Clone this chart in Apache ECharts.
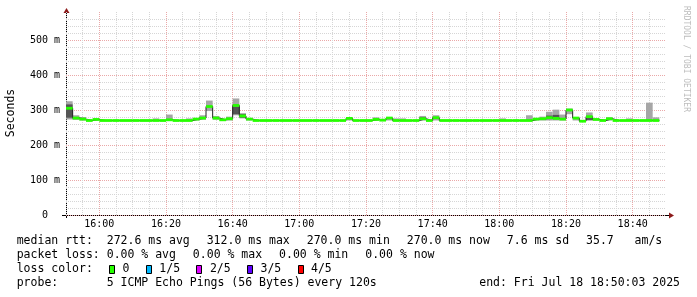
<!DOCTYPE html>
<html><head><meta charset="utf-8">
<script src="https://cdn.jsdelivr.net/npm/echarts@6/dist/echarts.min.js"></script>
<style>html,body{margin:0;padding:0;background:#fff}#c{width:697px;height:297px}</style>
</head><body><div id="c"></div>
<script>
// ---- data (times in minutes since midnight; RTT values in ms) ----
const START_MIN = 950;      // 15:50
const STEP_MIN = 2;         // 120 s probe step
const X_MIN = 950, X_MAX = 1130;   // 15:50 .. 18:50
const Y_MAX = 580;
const xTickLabels = ['16:00','16:20','16:40','17:00','17:20','17:40','18:00','18:20','18:40'];
const yTickLabels = ['0','100 m','200 m','300 m','400 m','500 m'];

const median = [305,277,274,270,273,270,270,270,270,270,270,270,270,270,270,272,270,270,270,274,
                277,310,277,272,275,313,283,274,270,270,270,270,270,270,270,270,270,270,270,270,
                270,270,276,270,270,270,273,271,277,270,270,270,270,275,270,278,270,270,270,270,
                270,270,270,270,270,270,270,270,270,270,274,275,278,276,274,300,277,268,281,273,
                270,275,270,270,270,270,270,270,270];
const smokeMin = [273,272,270,270,270,270,270,270,270,270,270,270,270,270,270,270,270,270,270,270,
                  272,297,272,270,270,285,276,270,270,270,270,270,270,270,270,270,270,270,270,270,
                  270,270,270,270,270,270,270,270,270,270,270,270,270,270,270,270,270,270,270,270,
                  270,270,270,270,270,270,270,270,270,270,270,270,270,270,270,288,270,266,270,270,
                  270,270,270,270,270,270,270,270,270];
const smokeMax = [325,285,280,270,275,270,270,270,270,270,270,270,270,276,270,287,270,270,276,275,
                  285,327,283,274,281,333,291,276,270,270,270,270,270,270,270,270,270,270,270,270,
                  270,270,277,270,270,270,279,271,278,276,276,270,270,283,270,285,270,270,270,270,
                  270,270,270,270,270,276,270,270,270,285,276,281,295,301,287,304,280,270,293,275,
                  270,279,270,270,276,270,270,321,279];
// darker inner part of the smoke (only where visible)
const innerMin = {0:278, 1:274, 20:275, 25:288, 26:278, 53:273, 72:274, 73:274, 78:271};
const innerMax = {0:316, 1:280, 20:280, 25:310, 26:288, 53:279, 72:284, 73:286, 78:279};

const legendLine1 = ['median rtt:  272.6 ms avg','312.0 ms max','270.0 ms min','270.0 ms now','7.6 ms sd','35.7   am/s'];
const legendLine2 = ['packet loss: 0.00 % avg','0.00 % max','0.00 % min','0.00 % now'];
const lossLabels = ['0','1/5','2/5','3/5','4/5'];
const lossColors = ['#26ff00','#00b8ff','#dd00ff','#5e00ff','#ff0000'];
const probeText = 'probe:       5 ICMP Echo Pings (56 Bytes) every 120s';
const endText = 'end: Fri Jul 18 18:50:03 2025';
const yAxisName = 'Seconds';
const watermark = 'RRDTOOL / TOBI OETIKER';

// ---- build ----
const t = i => START_MIN + STEP_MIN * i;
const GREEN = '#26ff00';
const MONO = '"DejaVu Sans Mono", "Liberation Mono", monospace';

const smokeData = [], innerData = [], greenData = [], lineData = [];
median.forEach((m, i) => {
  if (smokeMax[i] > smokeMin[i]) smokeData.push([t(i), smokeMin[i], smokeMax[i]]);
  if (innerMin[i] != null) innerData.push([t(i), innerMin[i], innerMax[i]]);
  greenData.push([t(i), m - 4, m + 4]);
  lineData.push([t(i), m]);
});
lineData.push([t(median.length), median[median.length - 1]]);

function bandRenderer(color) {
  return function (params, api) {
    const x = api.value(0), lo = api.value(1), hi = api.value(2);
    const p1 = api.coord([x, hi]);
    const p2 = api.coord([x + STEP_MIN, lo]);
    return { type: 'rect', shape: { x: p1[0], y: p1[1], width: p2[0] - p1[0], height: p2[1] - p1[1] },
             style: { fill: color } };
  };
}

function hhmm(v) {
  const h = Math.floor(v / 60), m = v % 60;
  return (h < 10 ? '0' : '') + h + ':' + (m < 10 ? '0' : '') + m;
}

const chart = echarts.init(document.getElementById('c'), null, { renderer: 'canvas' });

const GRAY = '#d6d6d6', RED = '#eaa8a8';
const CW = 6.92, GAP = 17, LX = 16.7, FS = 11.5, BOX_SLOT = 13.5;
const graphics = [];
function txt(x, y, s, extra) {
  graphics.push(Object.assign({ type: 'text', x: x, y: y, silent: true,
    style: Object.assign({ text: s, font: FS + 'px ' + MONO, fill: '#000', align: 'left', verticalAlign: 'middle' }, extra && extra.style || {}) },
    extra && extra.el || {}));
}
let x = LX;
legendLine1.forEach(s => { txt(x, 241.5, s); x += s.length * CW + GAP; });
x = LX;
legendLine2.forEach(s => { txt(x, 255.2, s); x += s.length * CW + GAP; });
txt(LX, 269, 'loss color:');
x = LX + 11 * CW + 16.3;
lossLabels.forEach((s, i) => {
  graphics.push({ type: 'rect', silent: true, shape: { x: Math.round(x) + 0.5, y: 265.5, width: 5, height: 8 },
                  style: { fill: lossColors[i], stroke: '#000', lineWidth: 1 } });
  txt(x + BOX_SLOT, 269, s);
  x += BOX_SLOT + s.length * CW + 16.3;
});
txt(LX, 282.8, probeText);
txt(680, 282.8, endText, { style: { align: 'right' } });
txt(11, 113, yAxisName, { style: { align: 'center' }, el: { rotation: Math.PI / 2 } });
txt(686, 59, watermark, { style: { align: 'center', font: '8px ' + MONO, fill: '#bdbdbd' }, el: { rotation: -Math.PI / 2 } });
// axis lines with rrdtool-style overhang and arrows
graphics.push({ type: 'line', silent: true, shape: { x1: 62, y1: 215.5, x2: 669, y2: 215.5 }, style: { stroke: '#000', lineWidth: 1 } });
graphics.push({ type: 'line', silent: true, shape: { x1: 66.5, y1: 218, x2: 66.5, y2: 12 }, style: { stroke: '#000', lineWidth: 1 } });
graphics.push({ type: 'polygon', silent: true, shape: { points: [[669, 212.5], [674, 215.5], [669, 218.5]] }, style: { fill: '#8c1a1a' } });
graphics.push({ type: 'polygon', silent: true, shape: { points: [[63.5, 13], [66.5, 8], [69.5, 13]] }, style: { fill: '#8c1a1a' } });

chart.setOption({
  animation: false,
  backgroundColor: '#ffffff',
  grid: { left: 66, right: 31, top: 12, bottom: 82, outerBoundsMode: 'none', containLabel: false },
  xAxis: {
    type: 'value', min: X_MIN, max: X_MAX, interval: 5,
    axisLine: { show: false }, axisTick: { show: false },
    axisLabel: {
      margin: 4, color: '#000', fontFamily: MONO, fontSize: 10,
      formatter: v => { const s = hhmm(v); return xTickLabels.indexOf(s) >= 0 ? s : ''; }
    },
    splitLine: { show: true, showMaxLine: false, lineStyle: { color: [GRAY, GRAY, RED, GRAY], width: 1, type: [1, 1] } }
  },
  yAxis: {
    type: 'value', min: 0, max: Y_MAX, interval: 20,
    axisLine: { show: false }, axisTick: { show: false },
    axisLabel: {
      margin: 6, color: '#000', fontFamily: MONO, fontSize: 10,
      formatter: v => {
        if (v % 100 !== 0) return '';
        const s = v === 0 ? '0' : v + ' m';
        if (yTickLabels.indexOf(s) < 0) return '';
        return v === 0 ? '  0  ' : s;
      }
    },
    splitLine: { show: true, showMaxLine: false, lineStyle: { color: [RED, GRAY, GRAY, GRAY, GRAY], width: 1, type: [1, 1] } }
  },
  series: [
    { type: 'custom', name: 'smoke', renderItem: bandRenderer('#a6a6a6'), data: smokeData, encode: { x: 0, y: [1, 2] }, silent: true, z: 2 },
    { type: 'custom', name: 'smokeInner', renderItem: bandRenderer('#555555'), data: innerData, encode: { x: 0, y: [1, 2] }, silent: true, z: 3 },
    { type: 'line', name: 'median', data: lineData, step: 'end', symbol: 'none', silent: true, z: 4,
      lineStyle: { color: '#202020', width: 1 } },
    { type: 'custom', name: 'loss0', renderItem: bandRenderer(GREEN), data: greenData, encode: { x: 0, y: [1, 2] }, silent: true, z: 5 }
  ],
  graphic: { elements: graphics }
});
</script></body></html>
